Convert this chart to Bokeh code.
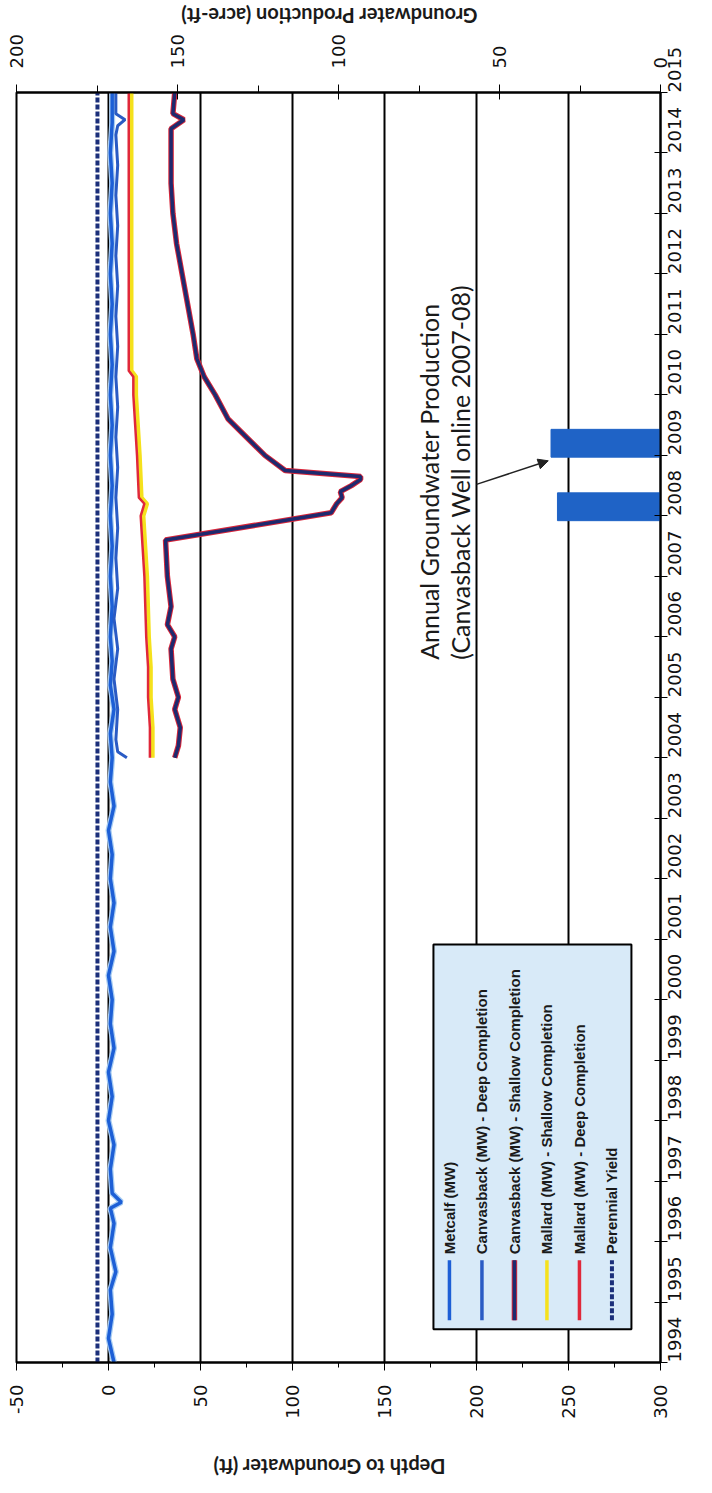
import math
from bokeh.plotting import figure
from bokeh.layouts import column
from bokeh.models import Range1d, LinearAxis, FixedTicker, Arrow, NormalHead, Label
from bokeh.core.properties import value
from bokeh.embed import file_html
from bokeh.resources import INLINE

# ---------------- data ----------------
year_ticks = list(range(1994, 2016))
depth_ticks = [-50, 0, 50, 100, 150, 200, 250, 300]
prod_ticks = [0, 50, 100, 150, 200]

met_years = [1994.0, 1994.4, 1994.8, 1995.2, 1995.5, 1995.9, 1996.3, 1996.55, 1996.65, 1996.8,
             1997.2, 1997.6, 1998.0, 1998.4, 1998.8, 1999.2, 1999.6, 2000.0, 2000.4, 2000.8,
             2001.2, 2001.6, 2002.0, 2002.4, 2002.8, 2003.2, 2003.6, 2004.0, 2004.4, 2004.8,
             2005.2, 2005.6, 2006.0, 2006.5, 2007.0, 2007.5, 2008.0, 2008.5, 2009.0, 2009.5,
             2010.0, 2010.5, 2011.0, 2011.5, 2012.0, 2012.5, 2013.0, 2013.5, 2014.0, 2014.5, 2015.0]
met_depth = [3, 0, 2, 1, 4, 1, 3, 1, 7, 2,
             1, 3, 0, 2, 0, 3, 1, 2, 0, 3,
             1, 3, 1, 2, 0, 3, 1, 2, 1, 3,
             1, 2, 1, 2, 1, 2, 1, 2, 1, 2,
             1, 2, 1, 2, 1, 2, 1, 2, 1, 2, 2]

cd_years = [2004.0, 2004.1, 2004.3, 2004.8, 2005.3, 2005.8, 2006.3, 2006.8, 2007.3, 2007.8,
            2008.3, 2008.8, 2009.3, 2009.8, 2010.3, 2010.8, 2011.3, 2011.8, 2012.3, 2012.8,
            2013.3, 2013.8, 2014.3, 2014.45, 2014.55, 2014.65, 2015.0]
cd_depth = [10, 5, 4, 5, 3, 5, 3, 5, 4, 5,
            4, 5, 4, 5, 4, 5, 4, 5, 4, 5,
            4, 5, 4, 5, 9, 4, 4]

cs_years = [2004.0, 2004.2, 2004.5, 2004.8, 2005.0, 2005.3, 2005.8, 2006.0, 2006.2, 2006.5,
            2007.0, 2007.6, 2008.05, 2008.2, 2008.3, 2008.4, 2008.5, 2008.6, 2008.65, 2008.75,
            2009.0, 2009.3, 2009.6, 2010.0, 2010.3, 2010.6, 2011.0, 2011.5, 2012.0, 2012.5,
            2013.0, 2013.5, 2014.0, 2014.4, 2014.55, 2014.65, 2015.0]
cs_depth = [36, 38, 39, 36, 38, 35, 34, 36, 32, 34,
            32, 31, 121, 124, 127, 126, 132, 137, 137, 96,
            85, 75, 65, 58, 52, 48, 46, 43, 40, 37,
            35, 34, 34, 34, 41, 35, 36]

ms_years = [2004.0, 2004.5, 2005.0, 2005.5, 2006.0, 2006.5, 2007.0, 2007.5, 2008.0, 2008.2,
            2008.3, 2009.0, 2009.5, 2010.0, 2010.3, 2010.4, 2011.0, 2012.0, 2013.0, 2014.0, 2015.0]
ms_depth = [24, 24, 23, 23, 22, 21.5, 21, 20, 19, 21,
            18, 17, 16, 15, 15, 12.5, 12.5, 12.5, 12.5, 12.5, 12.5]
md_depth = [22.5, 22.5, 21.5, 21.5, 20.5, 20, 19.5, 18.5, 17.5, 19.5,
            16.5, 15.5, 14.5, 13.5, 13.5, 11, 11, 11, 11, 11, 11]

py_years = [1994.0, 2015.0]
py_depth = [-6, -6]

bar_years = [2008.15, 2009.2]
bar_prod = [32, 34]

series_labels = ["Metcalf (MW)", "Canvasback (MW) - Deep Completion",
                 "Canvasback (MW) - Shallow Completion", "Mallard (MW) - Shallow Completion",
                 "Mallard (MW) - Deep Completion", "Perennial Yield"]
series_colors = ["#1d5fd6", "#2a5bc4", "#1e2a6e", "#f5e11c", "#e0283a", "#1b2f7a"]

depth_title = "Depth to Groundwater (ft)"
prod_title = "Groundwater Production (acre-ft)"

W = 696


def title_strip(text, h, cy):
    f = figure(width=W, height=h, output_backend="svg", toolbar_location=None,
               x_range=Range1d(0, W), y_range=Range1d(0, h), x_axis_type=None, y_axis_type=None,
               min_border=0, border_fill_color="white", background_fill_color="white")
    f.outline_line_color = None
    f.grid.grid_line_color = None
    f.text(x=[338], y=[cy], text=[text], angle=math.pi, text_align="center",
           text_baseline="middle", text_font=value("Lato"), text_font_style="bold",
           text_font_size="20px", text_color="#1a1a1a")
    return f


top_strip = title_strip(prod_title, 30, 15)

# ---------------- main figure ----------------
p = figure(width=W, height=1417, output_backend="svg", toolbar_location=None,
           x_range=Range1d(-50, 300), y_range=Range1d(1994, 2015),
           x_axis_location="below", y_axis_location="right",
           min_border_left=16, min_border_right=36, min_border_top=62, min_border_bottom=85,
           background_fill_color="white", border_fill_color="white")
p.outline_line_color = "black"
p.outline_line_width = 2
p.extra_x_ranges = {"prod": Range1d(200, 0)}

tick_font = "DejaVu Sans"
tick_size = "18px"

xa = p.xaxis[0]
xa.ticker = FixedTicker(ticks=depth_ticks, minor_ticks=[-25, 25, 75, 125, 175, 225, 275])
xa.major_label_overrides = {-50: "-50"}
xa.major_label_orientation = math.pi / 2
xa.major_label_text_font = tick_font
xa.major_label_text_font_size = tick_size
xa.major_label_text_color = "#111111"
xa.major_tick_out = 8
xa.major_tick_in = 0
xa.minor_tick_out = 5
xa.minor_tick_in = 0
xa.major_label_standoff = 14
xa.axis_line_color = "black"
xa.axis_line_width = 2

ya = p.yaxis[0]
ya.ticker = FixedTicker(ticks=year_ticks)
ya.major_label_orientation = math.pi / 2
ya.major_label_text_font = tick_font
ya.major_label_text_font_size = tick_size
ya.major_label_text_color = "#111111"
ya.major_tick_out = 7
ya.major_tick_in = 6
ya.minor_tick_out = 0
ya.minor_tick_in = 0
ya.major_label_standoff = 7
ya.axis_line_color = "black"
ya.axis_line_width = 2

ta = LinearAxis(x_range_name="prod",
                ticker=FixedTicker(ticks=prod_ticks, minor_ticks=[25, 75, 125, 175]))
ta.major_label_orientation = math.pi / 2
ta.major_label_text_font = tick_font
ta.major_label_text_font_size = tick_size
ta.major_label_text_color = "#111111"
ta.major_tick_out = 8
ta.major_tick_in = 7
ta.minor_tick_out = 7
ta.minor_tick_in = 0
ta.major_label_standoff = 16
ta.axis_line_color = "black"
ta.axis_line_width = 2
p.add_layout(ta, "above")

p.xgrid.ticker = FixedTicker(ticks=depth_ticks)
p.xgrid.grid_line_color = "black"
p.xgrid.grid_line_width = 2
p.ygrid.grid_line_color = None

# ---------------- marks ----------------
p.hbar(y=bar_years, height=0.46, left=0, right=bar_prod, x_range_name="prod",
       fill_color="#1f63c6", line_color="#1f63c6")

p.line(py_depth, py_years, line_color=series_colors[5], line_width=4, line_dash="5 2")
p.line(met_depth, met_years, line_color="#a9cdf2", line_width=6)
p.line(met_depth, met_years, line_color=series_colors[0], line_width=3.5)
p.line(cd_depth, cd_years, line_color=series_colors[1], line_width=3)
p.line(ms_depth, ms_years, line_color=series_colors[3], line_width=4)
p.line(md_depth, ms_years, line_color=series_colors[4], line_width=2.5)
p.line(cs_depth, cs_years, line_color="#d8263a", line_width=5.5)
p.line(cs_depth, cs_years, line_color=series_colors[2], line_width=3.5)

# ---------------- annotation ----------------
p.add_layout(Label(x=174, y=2005.62, text="Annual Groundwater Production", angle=math.pi / 2,
                   text_align="left", text_baseline="middle", text_font="Lato",
                   text_font_size="25px", text_color="#1a1a1a"))
p.add_layout(Label(x=191, y=2005.62, text="(Canvasback Well  online 2007-08)", angle=math.pi / 2,
                   text_align="left", text_baseline="middle", text_font="Lato",
                   text_font_size="25px", text_color="#1a1a1a"))
p.add_layout(Arrow(x_start=200, y_start=2008.52, x_end=239, y_end=2008.91,
                   line_color="#222222", line_width=1.5,
                   end=NormalHead(size=10, fill_color="#222222", line_color="#222222")))

# ---------------- legend (drawn manually, rotated) ----------------
PX_X = 350.0 / 644.0      # depth units per pixel
PX_Y = 21.0 / 1270.0      # years per pixel
leg_left, leg_right = 176.6, 284.2
leg_bottom, leg_top = 1994.55, 2000.91
p.quad(left=[leg_left], right=[leg_right], bottom=[leg_bottom], top=[leg_top],
       fill_color="#d8eaf8", line_color="black", line_width=2)
entry_x = [leg_left + (16 + 32.5 * i) * PX_X for i in range(len(series_labels))]
sample_y0 = leg_bottom + 9 * PX_Y
sample_y1 = sample_y0 + 60 * PX_Y
for i, c in enumerate(series_colors):
    if i == 5:
        p.line([entry_x[i], entry_x[i]], [sample_y0, sample_y1], line_color=c, line_width=4,
               line_dash="5 2")
    else:
        if i == 2:
            p.line([entry_x[i], entry_x[i]], [sample_y0, sample_y1], line_color="#d8263a",
                   line_width=5.5)
        p.line([entry_x[i], entry_x[i]], [sample_y0, sample_y1], line_color=c,
               line_width=3.5)
p.text(x=entry_x, y=[sample_y1 + 6 * PX_Y] * len(series_labels), text=series_labels,
       angle=math.pi / 2, text_align="left", text_baseline="middle",
       text_font=value("Liberation Sans"), text_font_style="bold",
       text_font_size="15px", text_color="#1a1a1a")

bottom_strip = title_strip(depth_title, 30, 11)

layout = column(top_strip, p, bottom_strip, spacing=0)
open("out.html", "w").write(file_html(layout, INLINE))
